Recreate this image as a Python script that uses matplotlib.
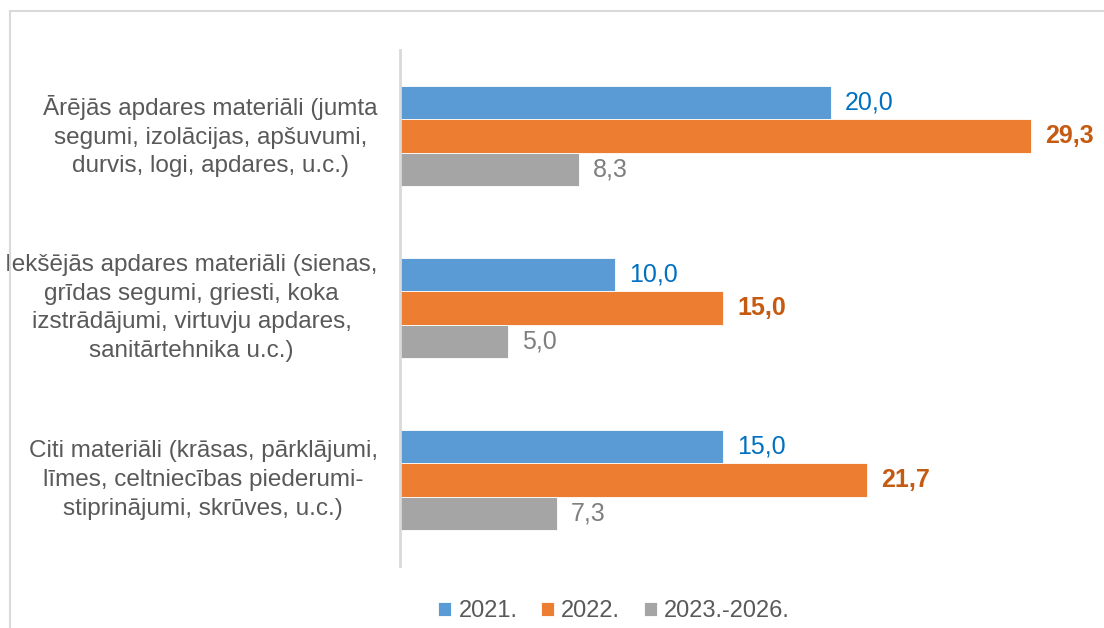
import numpy as np
import matplotlib.pyplot as plt
from matplotlib.lines import Line2D

plt.rcParams['font.family'] = ['Liberation Sans', 'DejaVu Sans']

categories = [
    "Ārējās apdares materiāli (jumta\nsegumi, izolācijas, apšuvumi,\ndurvis, logi, apdares, u.c.)",
    "Iekšējās apdares materiāli (sienas,\ngrīdas segumi, griesti, koka\nizstrādājumi, virtuvju apdares,\nsanitārtehnika u.c.)",
    "Citi materiāli (krāsas, pārklājumi,\nlīmes, celtniecības piederumi-\nstiprinājumi, skrūves, u.c.)",
]
series_names = ["2021.", "2022.", "2023.-2026."]
values_2021 = [20.0, 10.0, 15.0]
values_2022 = [29.3, 15.0, 21.7]
values_2023_2026 = [8.3, 5.0, 7.3]

bar_colors = ["#5B9BD5", "#ED7D31", "#A5A5A5"]
label_colors = ["#0070C0", "#C55A11", "#7F7F7F"]
label_weights = ["normal", "bold", "normal"]
text_color = "#595959"

fig = plt.figure(figsize=(11.04, 6.28), dpi=100)
ax = fig.add_axes([400 / 1104, 1 - 566 / 628, 646 / 1104, 516 / 628])

# frame around the chart area (top and left edges only are visible)
fig.add_artist(Line2D([10 / 1104, 1.0], [1 - 11 / 628] * 2, color="#D9D9D9", lw=1.5))
fig.add_artist(Line2D([10 / 1104] * 2, [0.0, 1 - 11 / 628], color="#D9D9D9", lw=1.5))

y = np.arange(len(categories))
h = 0.192
all_values = [values_2021, values_2022, values_2023_2026]
for i, vals in enumerate(all_values):
    pos = y + (i - 1) * h
    ax.barh(pos, vals, height=h, color=bar_colors[i], label=series_names[i],
            edgecolor="white", linewidth=0.6)
    for p, v in zip(pos, vals):
        ax.text(v + 0.65, p, f"{v:.1f}".replace(".", ","), va="center", ha="left",
                fontsize=18, color=label_colors[i], fontweight=label_weights[i],
                clip_on=False)

ax.set_xlim(0, 30)
ax.set_ylim(len(categories) - 0.5, -0.5)
ax.set_yticks(y)
ax.set_yticklabels(categories, fontsize=17.5, color=text_color,
                   multialignment="center", linespacing=1.39)
for lbl in ax.get_yticklabels():
    lbl.set_verticalalignment("center")
ax.tick_params(axis="y", length=0, pad=16)
ax.set_xticks([])

for side in ["top", "right", "bottom"]:
    ax.spines[side].set_visible(False)
ax.spines["left"].set_color("#D9D9D9")
ax.spines["left"].set_linewidth(2)

leg = fig.legend(loc="center", bbox_to_anchor=(614 / 1104, 1 - 611 / 628), ncol=3,
                 frameon=False, fontsize=17, handlelength=0.55, handleheight=0.55,
                 handletextpad=0.3, columnspacing=1.0)
for t in leg.get_texts():
    t.set_color(text_color)

fig.savefig("out.png", dpi=100)
